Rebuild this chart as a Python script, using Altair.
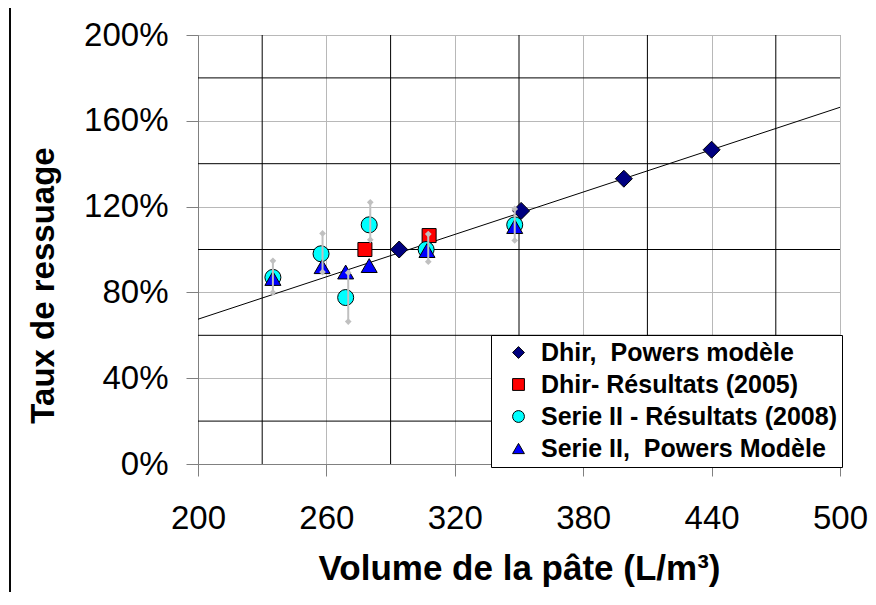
import altair as alt
import pandas as pd

# ---- data ----
series_names = ["Dhir,\u00a0 Powers modèle", "Dhir- Résultats (2005)",
                "Serie II - Résultats (2008)", "Serie II,\u00a0 Powers Modèle"]

dhir_powers_x = [294, 351, 399, 440]
dhir_powers_y = [100, 118, 133, 146.5]
dhir_res_x = [278, 308]
dhir_res_y = [100, 106.5]
s2_res_x = [235, 257.5, 269, 280, 306.6, 348]
s2_res_y = [87, 98, 77.6, 111.5, 100, 111.5]
s2_pow_x = [235, 258, 269, 280, 307, 348]
s2_pow_y = [86.5, 92, 89.5, 92.5, 99.5, 110.7]

err_x = [235, 258.2, 270.2, 280.5, 307.6, 348]
err_low = [80, 89.5, 66.4, 104.5, 94.3, 104.2]
err_high = [94.7, 107.5, 89.2, 122, 107.2, 118.9]

trend_x = [200, 500]
trend_y = [67.5, 166.3]

x_ticks = [200, 260, 320, 380, 440, 500]
y_ticks = [0, 40, 80, 120, 160, 200]
x_minor = [230, 290, 350, 410, 470]
y_minor = [20, 60, 100, 140, 180]

# ---- tables ----
rows = []
for name, xs, ys in zip(series_names,
                        [dhir_powers_x, dhir_res_x, s2_res_x, s2_pow_x],
                        [dhir_powers_y, dhir_res_y, s2_res_y, s2_pow_y]):
    for a, b in zip(xs, ys):
        rows.append({"x": a, "y": b, "series": name})
points = pd.DataFrame(rows)
errs = pd.DataFrame({"x": err_x, "y": err_low, "y2": err_high})
caps = pd.DataFrame({"x": err_x + err_x, "y": err_low + err_high})
trend = pd.DataFrame({"x": trend_x, "y": trend_y})
vgrid = pd.DataFrame({"x": x_minor})
hgrid = pd.DataFrame({"y": y_minor})

FONT = "Liberation Sans"

xscale = alt.Scale(domain=[200, 500], nice=False, zero=False)
yscale = alt.Scale(domain=[0, 200], nice=False, zero=False)

X = alt.X("x:Q", scale=xscale,
          axis=alt.Axis(values=x_ticks, title="Volume de la pâte (L/m³)",
                        grid=True, gridColor="#b8b8b8", gridWidth=1,
                        domainColor="#808080", tickColor="#808080", tickSize=12,
                        labelFontSize=33, labelFont=FONT, labelColor="black",
                        labelPadding=26, labelFlush=False, labelOverlap=False,
                        titleFont=FONT, titleFontSize=35, titleFontWeight="bold",
                        titleColor="black", titlePadding=16))
Y = alt.Y("y:Q", scale=yscale,
          axis=alt.Axis(values=y_ticks, labelExpr="datum.value + '%'",
                        title="Taux de ressuage",
                        grid=True, gridColor="#b8b8b8", gridWidth=1,
                        domainColor="#808080", tickColor="#808080", tickSize=12,
                        labelFontSize=33, labelFont=FONT, labelColor="black",
                        labelPadding=18, labelFlush=False, labelOverlap=False,
                        titleFont=FONT, titleFontSize=33, titleFontWeight="bold",
                        titleColor="black", titlePadding=23, titleY=250))

vrules = alt.Chart(vgrid).mark_rule(color="black", strokeWidth=1).encode(x=X)
hrules = alt.Chart(hgrid).mark_rule(color="black", strokeWidth=1).encode(y=Y)
tline = alt.Chart(trend).mark_line(color="black", strokeWidth=1, clip=True).encode(x=X, y=Y)

# outer chart-area border (left edge visible in the reference)
frame = alt.Chart(vgrid).mark_rule(color="black", strokeWidth=1, clip=False).encode(
    x=alt.value(-188), y=alt.value(-27), y2=alt.value(562))

fill_scale = alt.Scale(domain=series_names,
                       range=["#000080", "#ff0000", "#00ffff", "#0000ff"])
shape_scale = alt.Scale(domain=series_names,
                        range=["diamond", "square", "circle", "triangle-up"])
stroke_scale = alt.Scale(domain=series_names,
                         range=["black", "black", "black", "black"])
legend = alt.Legend(orient="none", legendX=293, legendY=300, title=None,
                    labelFont=FONT, labelFontSize=25, labelFontWeight="bold",
                    labelColor="black", labelLimit=500,
                    symbolSize=140, symbolStrokeColor="black", symbolStrokeWidth=1,
                    strokeColor="black", fillColor="white", padding=5,
                    rowPadding=6, symbolOffset=10, labelOffset=10)

sizes = [289, 196, 256, 256]
layers = []
for name, s in zip(series_names, sizes):
    layers.append(
        alt.Chart(points).transform_filter(alt.datum.series == name)
        .mark_point(filled=True, size=s, strokeWidth=1, opacity=1)
        .encode(x=X, y=Y,
                fill=alt.Fill("series:N", scale=fill_scale, legend=legend),
                shape=alt.Shape("series:N", scale=shape_scale, legend=legend),
                stroke=alt.Stroke("series:N", scale=stroke_scale, legend=legend))
    )

ebars = alt.Chart(errs).mark_rule(color="#c0c0c0", strokeWidth=2).encode(
    x=X, y=Y, y2="y2:Q")
ecaps = alt.Chart(caps).mark_point(shape="diamond", filled=True, size=45,
                                   color="#c0c0c0", opacity=1).encode(x=X, y=Y)

chart = alt.layer(vrules, hrules, tline, *layers, ebars, ecaps, frame).properties(
    width=642, height=429,
    autosize=alt.AutoSizeParams(type="none"),
    padding={"left": 190, "top": 27, "right": 28, "bottom": 128},
    background="white",
).configure_view(stroke="#808080", strokeWidth=1)

chart.save("out.html", embed_options={"renderer": "svg", "actions": False})
